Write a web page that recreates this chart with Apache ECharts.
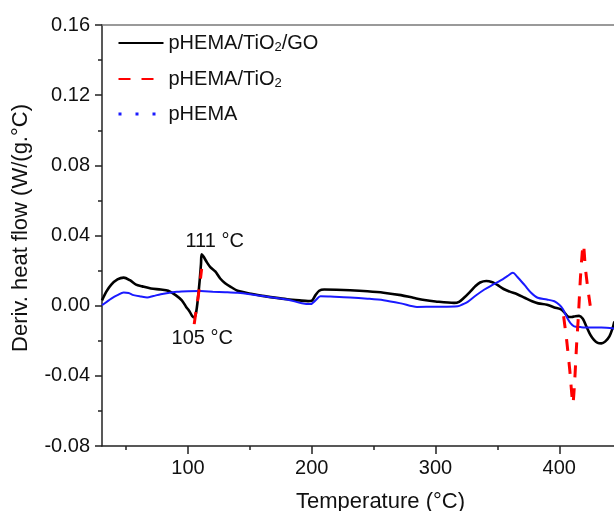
<!DOCTYPE html>
<html>
<head>
<meta charset="utf-8">
<script src="https://cdn.jsdelivr.net/npm/echarts@6/dist/echarts.min.js"></script>
<style>
  html, body { margin: 0; padding: 0; background: #fff; }
  #chart { width: 614px; height: 511px; }
</style>
</head>
<body>
<div id="chart"></div>
<script>
// DTG-style derivative heat flow curves, temperature in °C
const seriesNames = ['pHEMA/TiO2/GO', 'pHEMA/TiO2', 'pHEMA'];

const composite = [
  [30.5, 0.003], [34, 0.008], [38, 0.012], [43, 0.015], [48, 0.016], [53, 0.0145],
  [58, 0.012], [63, 0.011], [70, 0.0098], [78, 0.0092], [84, 0.0085], [90, 0.006],
  [95, 0.003], [98.5, -0.0007], [101, -0.003], [103.5, -0.006], [105, -0.0067],
  [106.5, -0.004], [108, 0.004], [109.5, 0.015], [110.5, 0.024], [111, 0.0293],
  [112.5, 0.028], [115, 0.025], [118, 0.022], [122, 0.0195], [126, 0.0155],
  [130, 0.0128], [135, 0.0105], [140, 0.0085], [146, 0.0075], [152, 0.0066],
  [160, 0.0056], [170, 0.0046], [180, 0.0037], [190, 0.003], [197, 0.0026],
  [200, 0.0028], [203, 0.006], [206, 0.0085], [210, 0.0092], [220, 0.0091],
  [231, 0.0088], [245, 0.0082], [258, 0.0074], [272, 0.006], [282, 0.0045],
  [291, 0.0032], [300, 0.0024], [315, 0.0016], [319, 0.0022], [323, 0.0045],
  [328, 0.008], [332, 0.011], [336, 0.0132], [341, 0.0141], [346, 0.0133],
  [350, 0.0118], [355, 0.0095], [360, 0.008], [366, 0.0065], [372, 0.0045],
  [378, 0.0025], [383, 0.0013], [390, 0.0005], [396, -0.001], [401, -0.002],
  [404, -0.0038], [407, -0.0062], [410, -0.0065], [413, -0.006], [416, -0.0058],
  [419, -0.0075], [422, -0.012], [425, -0.0165], [428, -0.0195], [431, -0.0212],
  [434, -0.0215], [437, -0.0205], [440.5, -0.0175], [443, -0.013], [444.5, -0.009]
];

// dashed curve is only traced around the two transitions
const titania = [
  [105, -0.0105], [106.5, -0.003], [108, 0.004], [109.5, 0.012], [111, 0.021],
  null,
  [403.5, -0.006], [406, -0.02], [408.5, -0.037], [411, -0.056], [412.5, -0.042],
  [414, -0.022], [415.5, -0.005], [417, 0.015], [418.5, 0.03], [419.5, 0.035],
  [421, 0.022], [423, 0.01], [425, 0.0]
];

const neat = [
  [30.5, 0.0003], [34, 0.002], [38, 0.004], [43, 0.006], [48, 0.0075], [52, 0.0072],
  [56, 0.006], [62, 0.0052], [67, 0.0047], [72, 0.0055], [78, 0.0065], [85, 0.0073],
  [91, 0.0079], [100, 0.0082], [110, 0.0083], [120, 0.008], [130, 0.0077],
  [140, 0.0073], [150, 0.0065], [165, 0.005], [180, 0.0035], [192, 0.0014],
  [199, 0.0009], [203, 0.003], [207, 0.0054], [215, 0.0052], [231, 0.0047],
  [245, 0.004], [258, 0.0031], [272, 0.0013], [285, -0.0007], [300, -0.0006],
  [318, -0.0003], [322, 0.0008], [326, 0.0022], [332, 0.0055], [339.5, 0.0092],
  [346, 0.0118], [353, 0.0145], [358, 0.0168], [362.5, 0.0187], [366, 0.0165],
  [372, 0.0117], [377, 0.0075], [382.5, 0.0045], [390, 0.0035], [396, 0.0025],
  [400, 0.0005], [403, -0.002], [406, -0.0065], [409, -0.01], [412, -0.0118],
  [417, -0.0122], [420.5, -0.0124], [434, -0.0124], [444.5, -0.013]
];

const xMajorTicks = [100, 200, 300, 400];
const xMinorTicks = [50, 150, 250, 350];
const peakLabels = [
  { t: 111, v: 0.0293, text: '111 °C', pos: 'top' },
  { t: 105, v: -0.0067, text: '105 °C', pos: 'bottom' }
];

const FONT = '"Liberation Sans", Arial, sans-serif';
const TEXT = '#111';
const xMin = 30.5, xMax = 444.2;

const chart = echarts.init(document.getElementById('chart'), null, { renderer: 'canvas' });

chart.setOption({
  animation: false,
  backgroundColor: '#fff',
  grid: { left: 102, right: 0, top: 25, bottom: 65, outerBoundsMode: 'none' },
  legend: {
    orient: 'vertical',
    left: 112,
    top: 26,
    itemWidth: 45,
    itemHeight: 14,
    itemGap: 13,
    itemStyle: { color: 'rgba(0,0,0,0)', borderWidth: 0, opacity: 0 },
    data: [
      { name: seriesNames[0] },
      { name: seriesNames[1] },
      { name: seriesNames[2], lineStyle: { type: [3, 14], width: 3 } }
    ],
    formatter: n => n.replace('TiO2', 'TiO{sub|2}'),
    textStyle: {
      fontFamily: FONT, fontSize: 20, color: TEXT, lineHeight: 22,
      rich: { sub: { fontFamily: FONT, fontSize: 13, color: TEXT, verticalAlign: 'bottom', lineHeight: 22, padding: [10, 0, 0, 0] } }
    }
  },
  xAxis: [
    {
      type: 'value', min: xMin, max: xMax, position: 'bottom',
      axisLine: { show: true, onZero: false, lineStyle: { color: '#222', width: 1.5 } },
      axisTick: { show: true, customValues: xMajorTicks, length: 8, lineStyle: { color: '#222', width: 1.5 } },
      axisLabel: { customValues: xMajorTicks, fontFamily: FONT, fontSize: 20, color: TEXT, margin: 12 },
      splitLine: { show: false },
      name: 'Temperature (°C)', nameLocation: 'middle', nameGap: 45,
      nameTextStyle: { fontFamily: FONT, fontSize: 22, color: TEXT, padding: [0, 0, 0, 45] }
    },
    {
      type: 'value', min: xMin, max: xMax, position: 'bottom',
      axisLine: { show: false, onZero: false },
      axisTick: { show: true, customValues: xMinorTicks, length: 4, lineStyle: { color: '#222', width: 1.5 } },
      axisLabel: { show: false },
      splitLine: { show: false }
    },
    {
      type: 'value', min: xMin, max: xMax, position: 'top',
      axisLine: { show: true, onZero: false, lineStyle: { color: '#7a7a7a', width: 1.5 } },
      axisTick: { show: false },
      axisLabel: { show: false },
      splitLine: { show: false }
    }
  ],
  yAxis: {
    type: 'value', min: -0.08, max: 0.16, interval: 0.04,
    axisLine: { show: true, lineStyle: { color: '#222', width: 1.5 } },
    axisTick: { show: true, length: 7, lineStyle: { color: '#222', width: 1.5 } },
    minorTick: { show: true, splitNumber: 2, length: 4, lineStyle: { color: '#222', width: 1.5 } },
    axisLabel: { formatter: v => v.toFixed(2), fontFamily: FONT, fontSize: 20, color: TEXT, margin: 12 },
    splitLine: { show: false },
    minorSplitLine: { show: false },
    name: 'Deriv. heat flow (W/(g.°C)', nameLocation: 'middle', nameGap: 70,
    nameTextStyle: { fontFamily: FONT, fontSize: 22, color: TEXT, padding: [0, 0, 0, 15] }
  },
  series: [
    {
      name: seriesNames[0], type: 'line', xAxisIndex: 0, data: composite,
      symbol: 'none', smooth: 0.3, z: 2,
      lineStyle: { color: '#000', width: 2.6 }, itemStyle: { color: '#000' },
      markPoint: {
        symbol: 'circle', symbolSize: 0,
        data: peakLabels.map(p => ({
          coord: [p.t, p.v], value: p.text,
          label: {
            show: true, formatter: p.text, position: p.pos,
            distance: p.pos === 'top' ? 3 : 11,
            offset: p.pos === 'top' ? [13, 0] : [8, 0],
            fontFamily: FONT, fontSize: 20, color: TEXT
          }
        }))
      }
    },
    {
      name: seriesNames[2], type: 'line', xAxisIndex: 0, data: neat,
      symbol: 'none', smooth: 0.3, z: 3,
      lineStyle: { color: '#1a1aff', width: 2 }, itemStyle: { color: '#1a1aff' }
    },
    {
      name: seriesNames[1], type: 'line', xAxisIndex: 0, data: titania,
      symbol: 'none', smooth: 0.2, connectNulls: false, z: 4,
      lineStyle: { color: '#ff0000', width: 3, type: [12, 11] }, itemStyle: { color: '#ff0000' }
    }
  ]
});
</script>
</body>
</html>
